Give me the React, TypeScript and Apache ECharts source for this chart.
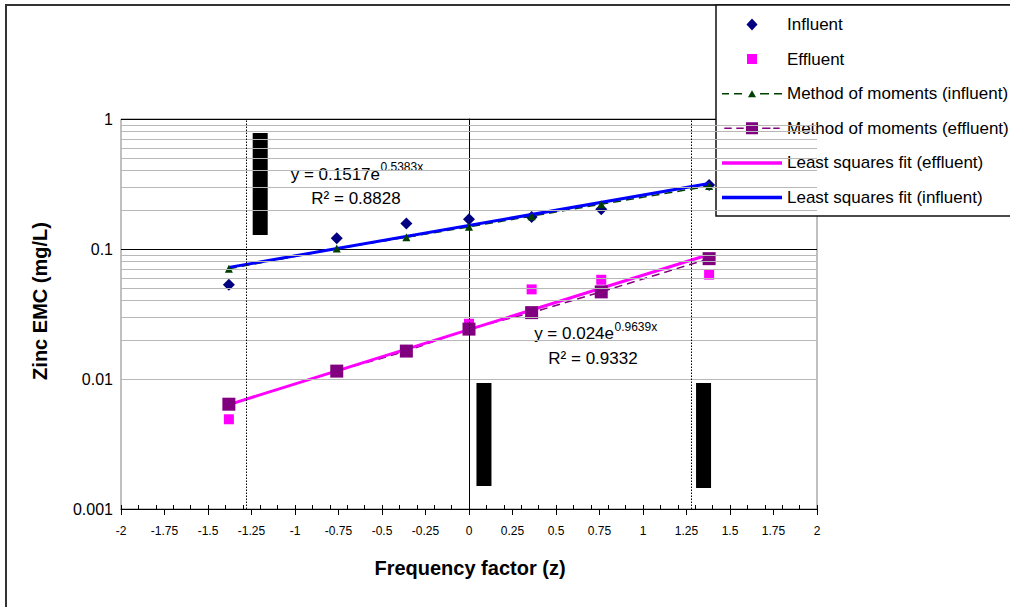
import React, { useEffect, useRef } from "react";
import * as echarts from "echarts";

// ---- data ----
const zValues = [-1.38, -0.76, -0.36, 0, 0.36, 0.76, 1.38];
const influent = [0.053, 0.121, 0.157, 0.169, 0.176, 0.202, 0.31];
const effluent = [0.0049, 0.0117, 0.0162, 0.0266, 0.0489, 0.058, 0.0635];
const momInfluent = [0.0706, 0.1007, 0.123, 0.148, 0.179, 0.221, 0.305];
const momEffluent = [0.0064, 0.0115, 0.0164, 0.0242, 0.0324, 0.0468, 0.0843];
const fitZ = [-1.38, 1.38];
const fitInfluent = [0.0722, 0.319];
const fitEffluent = [0.00635, 0.0908];
const percentileZ = [-1.28, 0, 1.28];
const blockZ = [-1.2, 0.086, 1.348];
const blockHigh = [0.78, 0.0093, 0.0093];
const blockLow = [0.128, 0.0015, 0.00145];
const decades = [0.001, 0.01, 0.1];
const minorMultipliers = [2, 3, 4, 5, 6, 7, 8, 9];
const seriesNames = [
  "Influent",
  "Effluent",
  "Method of moments (influent)",
  "Method of moments (effluent)",
  "Least squares fit (effluent)",
  "Least squares fit (influent)",
];
const eqInfluent = ["y = 0.1517e", "0.5383x", "R² = 0.8828"];
const eqEffluent = ["y = 0.024e", "0.9639x", "R² = 0.9332"];
const xTitle = "Frequency factor (z)";
const yTitle = "Zinc EMC (mg/L)";

const FONT = '"Liberation Sans", Arial, sans-serif';

const pairs = (xs: number[], ys: number[]) => xs.map((x, i) => [x, ys[i]]);

// legend icons drawn in a 60x12 box (tiny corner marks fix the box size)
const BOX = "M0,0L0.01,0L0,0.01Z M60,12L59.99,12L60,11.99Z ";
const ICON_DIAMOND = "path://" + BOX + "M30,0L35.5,6L30,12L24.5,6Z";
const ICON_SQUARE = "path://" + BOX + "M25,1L35,1L35,11L25,11Z";
const ICON_MOM_IN =
  "path://" + BOX +
  "M0,5.25L7,5.25L7,6.75L0,6.75Z M12,5.25L20,5.25L20,6.75L12,6.75Z M26,9.5L30,2.5L34,9.5Z M38,5.25L47,5.25L47,6.75L38,6.75Z M52,5.25L60,5.25L60,6.75L52,6.75Z";
const ICON_MOM_EF =
  "path://" + BOX +
  "M0,5.25L8,5.25L8,6.75L0,6.75Z M13,5.25L21,5.25L21,6.75L13,6.75Z M23.5,-0.5L36.5,-0.5L36.5,12.5L23.5,12.5Z M41,5.25L50,5.25L50,6.75L41,6.75Z M53,5.25L60,5.25L60,6.75L53,6.75Z";
const ICON_LINE = "path://" + BOX + "M0,4.25L60,4.25L60,7.75L0,7.75Z";

export default function App() {
  const ref = useRef<HTMLDivElement>(null);

  useEffect(() => {
    if (!ref.current) return;
    const chart = echarts.init(ref.current, undefined, { renderer: "svg" });

    const minorValues: number[] = [];
    decades.forEach((d) => minorMultipliers.forEach((m) => minorValues.push(+(d * m).toPrecision(3))));

    const option: any = {
      animation: false,
      backgroundColor: "#fff",
      grid: {
        left: 121,
        right: 193,
        top: 119,
        bottom: 98,
        show: true,
        borderColor: "#808080",
        borderWidth: 1,
        backgroundColor: "transparent",
        outerBoundsMode: "none",
      },
      legend: {
        orient: "vertical",
        left: 716,
        top: 5,
        padding: [11, 60, 10, 6],
        itemWidth: 60,
        itemHeight: 12,
        itemGap: 17.6,
        backgroundColor: "#fff",
        borderColor: "#111",
        borderWidth: 1.5,
        selectedMode: false,
        textStyle: { fontFamily: FONT, fontSize: 17, color: "#000", lineHeight: 14 },
        data: [
          { name: seriesNames[0], icon: ICON_DIAMOND },
          { name: seriesNames[1], icon: ICON_SQUARE },
          { name: seriesNames[2], icon: ICON_MOM_IN },
          { name: seriesNames[3], icon: ICON_MOM_EF },
          { name: seriesNames[4], icon: ICON_LINE },
          { name: seriesNames[5], icon: ICON_LINE },
        ],
      },
      xAxis: [
        {
          type: "value",
          min: -2,
          max: 2,
          interval: 0.25,
          position: "bottom",
          axisLine: { show: true, onZero: false, lineStyle: { color: "#000", width: 1 } },
          axisTick: { show: true, length: 6, lineStyle: { color: "#000" } },
          axisLabel: { fontFamily: FONT, fontSize: 12, color: "#000", margin: 16 },
          splitLine: { show: false },
        },
        {
          type: "value",
          min: -2,
          max: 2,
          interval: 0.1,
          position: "bottom",
          offset: 0,
          axisLine: { show: false, onZero: false },
          axisTick: { show: true, inside: true, length: 4, lineStyle: { color: "#000" } },
          axisLabel: { show: false },
          splitLine: { show: false },
        },
      ],
      yAxis: {
        type: "log",
        logBase: 10,
        min: 0.001,
        max: 1,
        axisLine: { show: true, lineStyle: { color: "#000", width: 1 } },
        axisTick: { show: true, length: 5, lineStyle: { color: "#000" } },
        axisLabel: { fontFamily: FONT, fontSize: 16, color: "#000", margin: 8 },
        splitLine: { show: true, lineStyle: { color: "#000", width: 1 } },
      },
      graphic: [
        {
          type: "rect",
          silent: true,
          shape: { x: 6, y: 5, width: 1200, height: 800 },
          style: { fill: "none", stroke: "#333", lineWidth: 2 },
        },
        {
          type: "text",
          x: 380,
          y: 174,
          style: { text: eqInfluent[0], align: "right", verticalAlign: "middle", fontFamily: FONT, fontSize: 17, fill: "#000" },
        },
        {
          type: "text",
          x: 380.5,
          y: 167,
          style: { text: eqInfluent[1], align: "left", verticalAlign: "middle", fontFamily: FONT, fontSize: 12, fill: "#000" },
        },
        {
          type: "text",
          x: 356,
          y: 198,
          style: { text: eqInfluent[2], align: "center", verticalAlign: "middle", fontFamily: FONT, fontSize: 17, fill: "#000" },
        },
        {
          type: "text",
          x: 614,
          y: 333,
          style: { text: eqEffluent[0], align: "right", verticalAlign: "middle", fontFamily: FONT, fontSize: 17, fill: "#000" },
        },
        {
          type: "text",
          x: 614.5,
          y: 327,
          style: { text: eqEffluent[1], align: "left", verticalAlign: "middle", fontFamily: FONT, fontSize: 12, fill: "#000" },
        },
        {
          type: "text",
          x: 593,
          y: 358,
          style: { text: eqEffluent[2], align: "center", verticalAlign: "middle", fontFamily: FONT, fontSize: 17, fill: "#000" },
        },
        {
          type: "text",
          x: 470,
          y: 568,
          style: { text: xTitle, align: "center", verticalAlign: "middle", fontFamily: FONT, fontSize: 20, fontWeight: "bold", fill: "#000" },
        },
        {
          type: "text",
          x: 40,
          y: 301,
          rotation: Math.PI / 2,
          style: { text: yTitle, align: "center", verticalAlign: "middle", fontFamily: FONT, fontSize: 20, fontWeight: "bold", fill: "#000" },
        },
      ],
      series: [
        {
          type: "line",
          name: "_grid",
          data: [],
          z: 1,
          silent: true,
          markLine: {
            silent: true,
            symbol: ["none", "none"],
            label: { show: false },
            emphasis: { disabled: true },
            lineStyle: { color: "#b8b8b8", width: 1, type: "solid" },
            data: [
              ...minorValues.map((v) => ({ yAxis: v })),
              ...percentileZ.map((v) => ({ xAxis: v, lineStyle: { color: "#000", width: 1, type: [1.5, 1.5] } })),
            ],
          },
        },
        {
          type: "custom",
          name: "_blocks",
          silent: true,
          data: blockZ.map((z, i) => [z, blockLow[i], blockHigh[i]]),
          encode: { x: 0, y: [1, 2] },
          renderItem: (params: any, api: any) => {
            const top = api.coord([api.value(0), api.value(2)]);
            const bot = api.coord([api.value(0), api.value(1)]);
            const w = 15;
            return {
              type: "rect",
              shape: { x: top[0] - w / 2, y: top[1], width: w, height: bot[1] - top[1] },
              style: { fill: "#000" },
            };
          },
        },
        {
          type: "scatter",
          name: seriesNames[0],
          data: pairs(zValues, influent),
          symbol: "diamond",
          symbolSize: 12,
          itemStyle: { color: "#000080", opacity: 1 },
        },
        {
          type: "scatter",
          name: seriesNames[1],
          data: pairs(zValues, effluent),
          symbol: "rect",
          symbolSize: 10,
          itemStyle: { color: "#ff00ff", opacity: 1 },
        },
        {
          type: "line",
          name: seriesNames[2],
          data: pairs(zValues, momInfluent),
          symbol: "triangle",
          symbolSize: 8,
          showSymbol: true,
          itemStyle: { color: "#004000" },
          lineStyle: { color: "#004000", width: 1.5, type: [8, 5] },
        },
        {
          type: "line",
          name: seriesNames[3],
          data: pairs(zValues, momEffluent),
          symbol: "rect",
          symbolSize: 13,
          showSymbol: true,
          itemStyle: { color: "#800080" },
          lineStyle: { color: "#800080", width: 1.5, type: [8, 5] },
        },
        {
          type: "line",
          name: seriesNames[4],
          data: pairs(fitZ, fitEffluent),
          symbol: "none",
          itemStyle: { color: "#ff00ff" },
          lineStyle: { color: "#ff00ff", width: 3 },
        },
        {
          type: "line",
          name: seriesNames[5],
          data: pairs(fitZ, fitInfluent),
          symbol: "none",
          itemStyle: { color: "#0000ff" },
          lineStyle: { color: "#0000ff", width: 3 },
        },
      ],
    };

    chart.setOption(option);
    return () => chart.dispose();
  }, []);

  return (
    <div
      ref={ref}
      style={{ position: "fixed", left: 0, top: 0, width: 1010, height: 607, background: "#fff" }}
    />
  );
}
